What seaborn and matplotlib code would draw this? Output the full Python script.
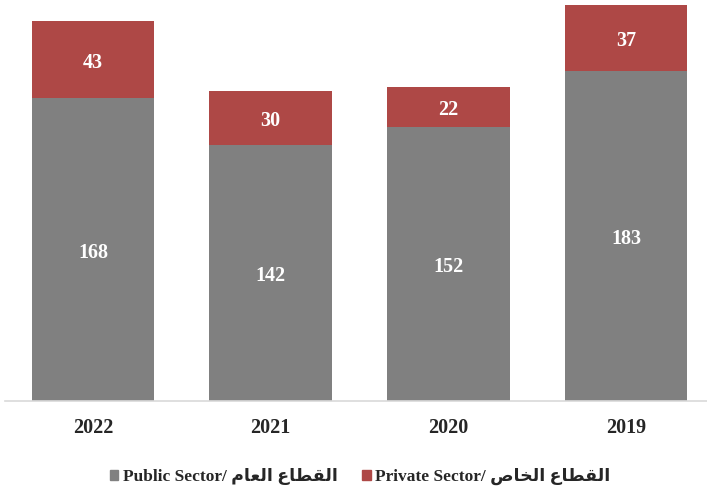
import matplotlib
matplotlib.use("Agg")
import matplotlib.pyplot as plt
import matplotlib.patches as mpatches
import pandas as pd
import seaborn as sns

years = ["2022", "2021", "2020", "2019"]
public_sector = [168, 142, 152, 183]
private_sector = [43, 30, 22, 37]

# Arabic pre-shaped (presentation forms, visual order) since matplotlib does no shaping
ar_public = "\uFEE1\uFE8E\uFECC\uFEDF\uFE8D \uFEC9\uFE8E\uFEC4\uFED8\uFEDF\uFE8D"   # القطاع العام
ar_private = "\uFEB9\uFE8E\uFEA8\uFEDF\uFE8D \uFEC9\uFE8E\uFEC4\uFED8\uFEDF\uFE8D"  # القطاع الخاص
legend_labels = ["Public Sector/ " + ar_public, "Private Sector/ " + ar_private]

GRAY = "#808080"
RED = "#AE4846"
FONT = ["Liberation Serif", "DejaVu Sans"]

sns.set_style("white")
plt.rcParams["font.family"] = FONT
plt.rcParams["font.weight"] = "bold"

df = pd.DataFrame({"year": years, "public": public_sector, "private": private_sector})
df["total"] = df["public"] + df["private"]

fig = plt.figure(figsize=(7.07, 4.90), dpi=100)
ax = fig.add_axes([5 / 707, 89 / 490, 702 / 707, 400 / 490])

sns.barplot(df, x="year", y="total", color=RED, width=0.69, saturation=1,
            linewidth=0, ax=ax)
sns.barplot(df, x="year", y="public", color=GRAY, width=0.69, saturation=1,
            linewidth=0, ax=ax)

# value labels centred in each segment (nudged a little down like the original)
for i, row in df.iterrows():
    ax.annotate(str(row["public"]), (i, row["public"] / 2), xytext=(0, -2.2),
                textcoords="offset points", ha="center", va="center",
                color="white", fontsize=14.5, fontweight="bold")
    ax.annotate(str(row["private"]), (i, row["public"] + row["private"] / 2),
                xytext=(0, -2.2), textcoords="offset points", ha="center",
                va="center", color="white", fontsize=14.5, fontweight="bold")

ax.set_xlim(-0.495, 3.455)
ax.set_ylim(0, 222)
ax.set_xlabel("")
ax.set_ylabel("")
ax.set_yticks([])
ax.tick_params(axis="x", length=0, pad=12.5, labelsize=14.5)
for lab in ax.get_xticklabels():
    lab.set_fontweight("bold")
for side in ["left", "right", "top"]:
    ax.spines[side].set_visible(False)
ax.spines["bottom"].set_color("#d9d9d9")
ax.spines["bottom"].set_linewidth(1.2)

handles = [mpatches.Patch(color=GRAY), mpatches.Patch(color=RED)]
fig.legend(handles, legend_labels, loc="center", bbox_to_anchor=(0.509, 0.027),
           ncol=2, frameon=False, handlelength=0.5, handleheight=0.5,
           handletextpad=0.25, columnspacing=1.4,
           prop={"family": FONT, "weight": "bold", "size": 12.5})

fig.savefig("out.png", dpi=100)
